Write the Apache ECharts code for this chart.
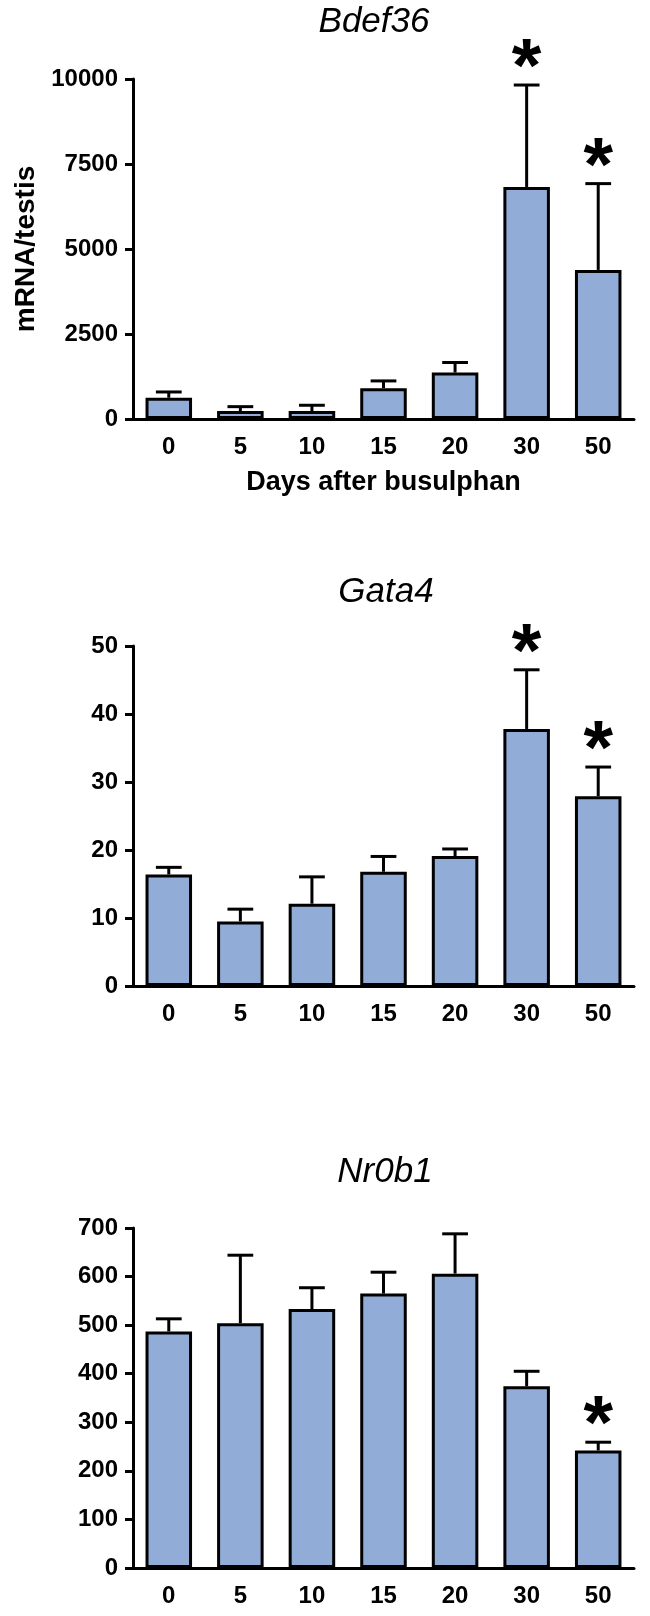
<!DOCTYPE html>
<html>
<head>
<meta charset="utf-8">
<script src="https://cdn.jsdelivr.net/npm/echarts@6/dist/echarts.min.js"></script>
<style>
html,body{margin:0;padding:0;background:#fff;}
#c{width:650px;height:1616px;}
</style>
</head>
<body>
<div id="c"></div>
<script>
// ---- data ----
var categories = ['0', '5', '10', '15', '20', '30', '50'];
var titles = ['Bdef36', 'Gata4', 'Nr0b1'];

var bdef36Mean = [625, 236, 236, 905, 1366, 6825, 4385];
var bdef36Err  = [170, 127, 168, 215, 295, 2998, 2538];
var bdef36Star = [0, 0, 0, 0, 0, 1, 1];

var gata4Mean = [16.4, 9.5, 12.1, 16.8, 19.1, 37.8, 27.9];
var gata4Err  = [1.05, 1.8, 3.95, 2.25, 1.05, 8.7, 4.3];
var gata4Star = [0, 0, 0, 0, 0, 1, 1];

var nr0b1Mean = [487, 504, 533, 565, 606, 374, 242];
var nr0b1Err  = [26, 140, 44, 44, 82, 31, 17];
var nr0b1Star = [0, 0, 0, 0, 0, 0, 1];

var yMax = [10000, 50, 700];
var yInterval = [2500, 10, 100];

// ---- chart ----
var FONT = "'Liberation Sans', Arial, Helvetica, sans-serif";
var BAR_COLOR = '#92acd8';
var LW = 3;

var means = [bdef36Mean, gata4Mean, nr0b1Mean];
var errs = [bdef36Err, gata4Err, nr0b1Err];
var stars = [bdef36Star, gata4Star, nr0b1Star];

var gridTops = [79, 646, 1228];
var titleCenters = [[374, 23], [386, 593], [385, 1173]];

var grids = [], xAxes = [], yAxes = [], series = [], titleOpts = [];

function plainLabel(v) { return String(v); }

for (var g = 0; g < 3; g++) {
  grids.push({left: 133, right: 16, top: gridTops[g], height: 340, containLabel: false});
  titleOpts.push({
    text: titles[g],
    left: titleCenters[g][0],
    top: titleCenters[g][1] - 18,
    textAlign: 'center',
    padding: 0,
    textStyle: {fontFamily: FONT, fontStyle: 'italic', fontWeight: 'normal', fontSize: 35, color: '#000'}
  });
  xAxes.push({
    type: 'category',
    gridIndex: g,
    data: categories,
    name: g === 0 ? 'Days after busulphan' : '',
    nameLocation: 'middle',
    nameGap: 50,
    nameTextStyle: {fontFamily: FONT, fontWeight: 'bold', fontSize: 27, color: '#000'},
    axisLine: {lineStyle: {color: '#000', width: LW}},
    axisTick: {alignWithLabel: true, length: 9, lineStyle: {color: '#000', width: LW}},
    axisLabel: {margin: 16, fontFamily: FONT, fontWeight: 'bold', fontSize: 24, color: '#000'},
    splitLine: {show: false}
  });
  yAxes.push({
    type: 'value',
    gridIndex: g,
    min: 0,
    max: yMax[g],
    interval: yInterval[g],
    name: g === 0 ? 'mRNA/testis' : '',
    nameLocation: 'middle',
    nameGap: 80,
    nameTextStyle: {fontFamily: FONT, fontWeight: 'bold', fontSize: 28, color: '#000'},
    axisLine: {show: true, lineStyle: {color: '#000', width: LW}},
    axisTick: {show: true, length: 8, lineStyle: {color: '#000', width: LW}},
    axisLabel: {margin: 15, fontFamily: FONT, fontWeight: 'bold', fontSize: 24, color: '#000', formatter: plainLabel},
    splitLine: {show: false}
  });

  var errData = [];
  for (var i = 0; i < categories.length; i++) {
    errData.push([i, means[g][i], means[g][i] + errs[g][i], stars[g][i]]);
  }

  series.push({
    type: 'custom',
    xAxisIndex: g,
    yAxisIndex: g,
    z: 1,
    silent: true,
    data: errData,
    renderItem: function (params, api) {
      var x = api.value(0), m = api.value(1), u = api.value(2), s = api.value(3);
      var p0 = api.coord([x, m]);
      var p1 = api.coord([x, u]);
      var half = api.size([1, 0])[0] * 0.18;
      var children = [
        {type: 'line', shape: {x1: p0[0], y1: p0[1], x2: p1[0], y2: p1[1]}, style: {stroke: '#000', lineWidth: LW}},
        {type: 'line', shape: {x1: p1[0] - half, y1: p1[1], x2: p1[0] + half, y2: p1[1]}, style: {stroke: '#000', lineWidth: LW}}
      ];
      if (s) {
        children.push({
          type: 'text',
          x: p1[0],
          y: p1[1] - 15,
          style: {text: '*', fontSize: 76, fontWeight: 'bold', fontFamily: FONT, fill: '#000', align: 'center', verticalAlign: 'middle'}
        });
      }
      return {type: 'group', children: children};
    }
  });

  series.push({
    type: 'bar',
    xAxisIndex: g,
    yAxisIndex: g,
    z: 2,
    barWidth: '65%',
    data: means[g],
    itemStyle: {color: BAR_COLOR, borderColor: '#000', borderWidth: LW},
    silent: true
  });
}

var chart = echarts.init(document.getElementById('c'), null, {renderer: 'canvas'});
chart.setOption({
  animation: false,
  backgroundColor: '#fff',
  title: titleOpts,
  grid: grids,
  xAxis: xAxes,
  yAxis: yAxes,
  series: series
});
</script>
</body>
</html>
